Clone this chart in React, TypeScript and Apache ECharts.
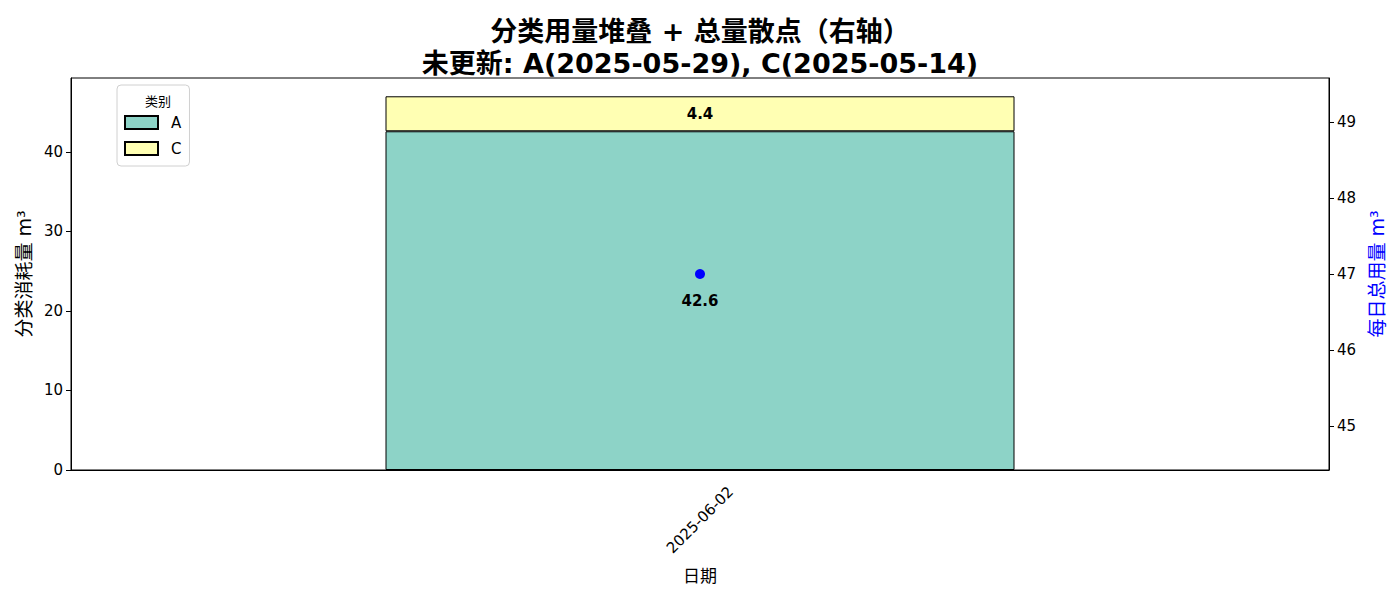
import React, { useEffect, useRef } from "react";
import * as echarts from "echarts";

const dates = ["2025-06-02"];
const seriesA = [42.6];
const seriesC = [4.4];
const totals = [47.0];
const legendNames = ["A", "C"];

const FONT = "'DejaVu Sans', 'Noto Sans CJK SC', sans-serif";

export default function App() {
  const ref = useRef<HTMLDivElement>(null);
  useEffect(() => {
    document.body.style.margin = "0";
    if (!ref.current) return;
    const chart = echarts.init(ref.current, null, { renderer: "svg" });
    chart.setOption({
      animation: false,
      textStyle: { fontFamily: FONT },
      title: [
        {
          text: "分类用量堆叠 + 总量散点（右轴）\n未更新: A(2025-05-29), C(2025-05-14)",
          left: "center",
          top: 10,
          textStyle: { fontSize: 27, fontWeight: "bold", color: "#000", lineHeight: 32, fontFamily: FONT },
        },
        {
          text: "类别",
          left: 140,
          top: 90,
          textStyle: { fontSize: 13, fontWeight: "normal", color: "#000", fontFamily: FONT },
        },
      ],
      grid: {
        left: 71,
        right: 71,
        top: 78,
        bottom: 130,
        show: true,
        borderColor: "#000",
        borderWidth: 1,
        backgroundColor: "transparent",
      },
      legend: {
        data: legendNames.map((n) => ({ name: n, icon: "rect" })),
        orient: "vertical",
        left: 117,
        top: 85,
        padding: [30, 8, 10, 7],
        itemWidth: 33,
        itemHeight: 13,
        itemGap: 11,
        borderColor: "#d0d0d0",
        borderWidth: 1,
        borderRadius: 4,
        textStyle: { fontSize: 15, color: "#000", fontFamily: FONT, padding: [0, 0, 0, 8] },
      },
      xAxis: {
        type: "category",
        data: dates,
        name: "日期",
        nameLocation: "middle",
        nameGap: 97,
        nameTextStyle: { fontSize: 17, color: "#000", fontFamily: FONT },
        axisLine: { lineStyle: { color: "#000" } },
        axisTick: { alignWithLabel: true, length: 5, lineStyle: { color: "#000" } },
        axisLabel: {
          rotate: 45,
          align: "center",
          verticalAlign: "middle",
          fontSize: 15,
          color: "#000",
          margin: 50,
          fontFamily: FONT,
        },
        splitLine: { show: false },
      },
      yAxis: [
        {
          type: "value",
          min: 0,
          max: 49.3,
          interval: 10,
          name: "分类消耗量 m³",
          nameLocation: "middle",
          nameRotate: 90,
          nameGap: 38,
          nameTextStyle: { fontSize: 19, color: "#000", fontFamily: FONT },
          axisLine: { show: true, lineStyle: { color: "#000" } },
          axisTick: { show: true, length: 5, lineStyle: { color: "#000" } },
          axisLabel: { fontSize: 15, color: "#000", showMaxLabel: false, margin: 8, fontFamily: FONT },
          splitLine: { show: false },
        },
        {
          type: "value",
          min: 44.42,
          max: 49.58,
          splitNumber: 5,
          position: "right",
          name: "每日总用量 m³",
          nameLocation: "middle",
          nameRotate: 90,
          nameGap: 33,
          nameTextStyle: { fontSize: 19, color: "#0000ff", fontFamily: FONT },
          axisLine: { show: true, lineStyle: { color: "#000" } },
          axisTick: { show: true, length: 5, lineStyle: { color: "#000" } },
          axisLabel: {
            fontSize: 15,
            color: "#000",
            showMaxLabel: false,
            showMinLabel: false,
            margin: 8,
            fontFamily: FONT,
          },
          splitLine: { show: false },
        },
      ],
      series: [
        {
          name: "A",
          type: "bar",
          stack: "total",
          data: seriesA,
          barWidth: "50%",
          itemStyle: { color: "#8dd3c7", borderColor: "#000", borderWidth: 1 },
          label: {
            show: true,
            position: "inside",
            formatter: (p: any) => p.value.toFixed(1),
            fontSize: 15,
            fontWeight: "bold",
            color: "#000",
            fontFamily: FONT,
          },
        },
        {
          name: "C",
          type: "bar",
          stack: "total",
          data: seriesC,
          barWidth: "50%",
          itemStyle: { color: "#ffffb3", borderColor: "#000", borderWidth: 1 },
          label: {
            show: true,
            position: "inside",
            formatter: (p: any) => p.value.toFixed(1),
            fontSize: 15,
            fontWeight: "bold",
            color: "#000",
            fontFamily: FONT,
          },
        },
        {
          name: "总量",
          type: "scatter",
          yAxisIndex: 1,
          data: totals,
          symbolSize: 10,
          itemStyle: { color: "#0000ff", opacity: 1 },
          z: 10,
        },
      ],
    });
    return () => chart.dispose();
  }, []);
  return <div ref={ref} style={{ width: 1400, height: 600 }} />;
}
